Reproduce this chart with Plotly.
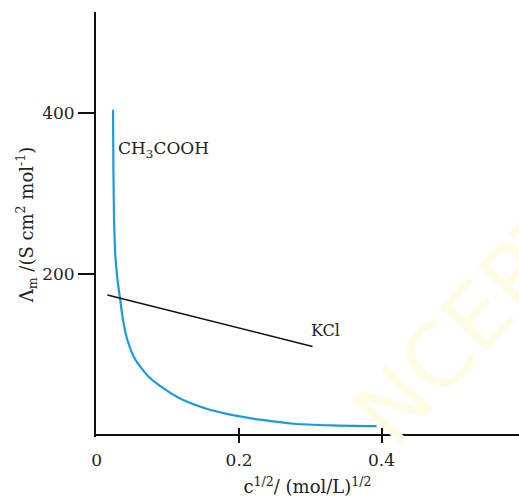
import plotly.graph_objects as go

# CH3COOH (weak electrolyte) curve
ch3_x = [0.0229, 0.0234, 0.0243, 0.0260, 0.0290, 0.0327, 0.0369, 0.0431, 0.0547,
         0.0734, 0.0970, 0.1200, 0.1530, 0.1950, 0.2300, 0.2770, 0.3300, 0.3930]
ch3_y = [404, 333, 271, 225, 194, 170, 143, 118, 93,
         72, 56, 44, 33, 24, 19, 14, 12, 11]

# KCl (strong electrolyte) line
kcl_x = [0.015, 0.303]
kcl_y = [174, 110]

x_ticks = [0, 0.2, 0.4]
x_tick_labels = ["0", "0.2", "0.4"]
x_mark_ticks = [0.2, 0.4]
y_ticks = [200, 400]
y_tick_labels = ["200", "400"]

FONT = "DejaVu Serif"

fig = go.Figure()
fig.add_trace(go.Scatter(x=ch3_x, y=ch3_y, mode="lines",
                         line=dict(color="#1a9ae0", width=2.2, shape="spline", smoothing=0.6),
                         showlegend=False, hoverinfo="skip"))
fig.add_trace(go.Scatter(x=kcl_x, y=kcl_y, mode="lines",
                         line=dict(color="#111111", width=1.6),
                         showlegend=False, hoverinfo="skip"))
# carrier trace for the overlay axis that draws the crossing tick marks
fig.add_trace(go.Scatter(x=kcl_x, y=kcl_y, mode="lines", xaxis="x2", yaxis="y",
                         line=dict(color="rgba(0,0,0,0)", width=1),
                         showlegend=False, hoverinfo="skip"))

xr = [-0.001, 0.593]
fig.update_layout(
    width=519, height=499,
    margin=dict(l=96, r=0, t=12, b=56, autoexpand=False),
    paper_bgcolor="white", plot_bgcolor="white",
    font=dict(family=FONT, size=15, color="#222222"),
    xaxis=dict(range=xr, tickvals=x_ticks, ticktext=x_tick_labels, automargin=False,
               anchor="free", position=0,
               showgrid=False, zeroline=False, showline=False,
               ticks="", ticklabelstandoff=5,
               tickfont=dict(family=FONT, size=17),
               title=dict(text="c<sup>1/2</sup>/ (mol/L)<sup>1/2</sup>", font=dict(family=FONT, size=18), standoff=11)),
    xaxis2=dict(range=xr, overlaying="x", side="top", anchor="free", position=0,
                tickvals=x_mark_ticks, showticklabels=False, automargin=False,
                showgrid=False, zeroline=False, showline=False,
                ticks="outside", ticklen=15, tickwidth=2, tickcolor="#111111"),
    yaxis=dict(domain=[6 / 431, 1], range=[-2.484, 525.47], tickvals=y_ticks, ticktext=y_tick_labels,
               automargin=False,
               showgrid=False, zeroline=True, zerolinecolor="#111111", zerolinewidth=2,
               showline=True, linecolor="#111111", linewidth=2,
               ticks="outside", ticklen=16, tickwidth=2, tickcolor="#111111",
               tickfont=dict(family=FONT, size=17),
               title=dict(text="Λ<sub>m</sub> /(S cm<sup>2</sup> mol<sup>-1</sup>)", font=dict(family=FONT, size=18), standoff=4)),
    annotations=[
        dict(x=0.526, y=140, xref="x", yref="y", text="NCERT", showarrow=False, textangle=-47,
             font=dict(family="DejaVu Sans", size=88, color="#fffce6")),
        dict(x=0.027, y=355, xref="x", yref="y", text="CH<sub>3</sub>COOH", showarrow=False,
             xanchor="left", yanchor="middle", font=dict(family=FONT, size=17, color="#222222")),
        dict(x=0.298, y=130, xref="x", yref="y", text="KCl", showarrow=False,
             xanchor="left", yanchor="middle", font=dict(family=FONT, size=16, color="#222222")),
    ],
)
fig.write_html("out.html", post_script="document.body.style.margin='0';",
               config={"displayModeBar": False})
